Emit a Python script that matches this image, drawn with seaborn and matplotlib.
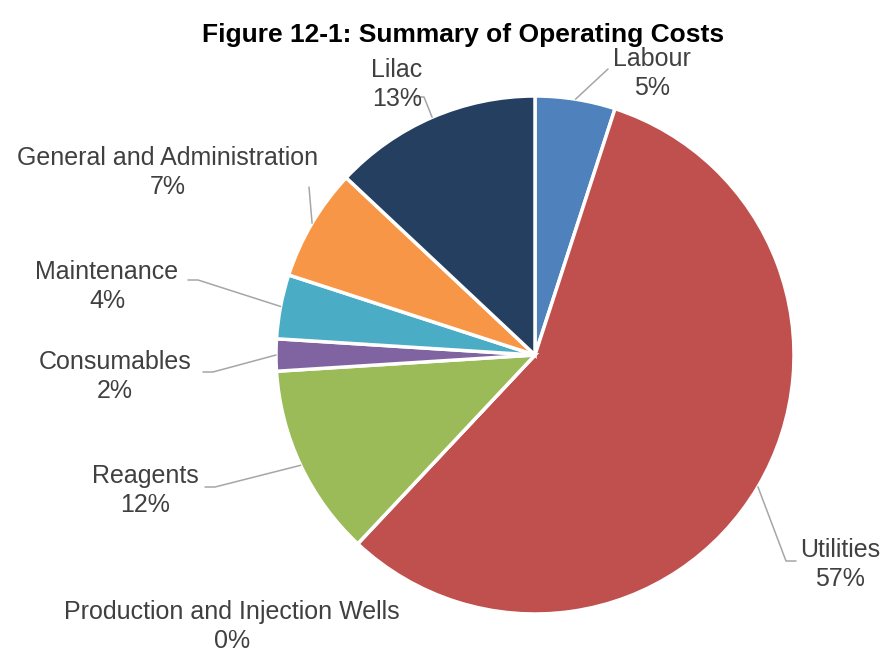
import numpy as np
import matplotlib
matplotlib.use("Agg")
import matplotlib.pyplot as plt
import seaborn as sns

# Operating cost breakdown (percent of total), clockwise from 12 o'clock
categories = ["Labour", "Utilities", "Production and Injection Wells", "Reagents",
              "Consumables", "Maintenance", "General and Administration", "Lilac"]
shares = [5, 57, 0, 12, 2, 4, 7, 13]
colors = ["#4F81BD", "#C0504D", "#7F7F7F", "#9BBB59",
          "#8064A2", "#4BACC6", "#F79646", "#243F60"]

sns.set_theme(style="white")
plt.rcParams["font.family"] = ["Liberation Sans", "DejaVu Sans"]

W, H = 884, 653
fig = plt.figure(figsize=(W / 100, H / 100), dpi=100)
ax = fig.add_axes([0, 0, 1, 1])

cx, cy, r = 535, H - 355, 259
wedges, _ = ax.pie(shares, colors=colors, startangle=90, counterclock=False,
                   center=(cx, cy), radius=r, frame=True,
                   wedgeprops=dict(edgecolor="white", linewidth=2.5))
ax.set_xlim(0, W)
ax.set_ylim(0, H)
ax.set_aspect("equal")
ax.axis("off")

# label placement: (text centre x, top-line y in px from top, leader start x, leader start y)
layout = {
    "Labour": (652, 59, 608, 69),
    "Utilities": (840, 550, 796, 561),
    "Production and Injection Wells": (232, 612, None, None),
    "Reagents": (145, 476, 205, 487),
    "Consumables": (115, 362, 203, 372),
    "Maintenance": (107, 272, 188, 280),
    "General and Administration": (168, 158, 309, 187),
    "Lilac": (397, 70, 414, 97),
}

txt_color = "#404040"
line_color = "#A6A6A6"
fs = 18
for w, name, val in zip(wedges, categories, shares):
    tx, ty, lx, ly = layout[name]
    ax.text(tx, H - ty, name, ha="center", va="center", fontsize=fs, color=txt_color)
    ax.text(tx, H - ty - 29, f"{val}%", ha="center", va="center", fontsize=fs, color=txt_color)
    if lx is None:
        continue
    mid = np.deg2rad((w.theta1 + w.theta2) / 2)
    px, py = cx + r * np.cos(mid), cy + r * np.sin(mid)
    # short horizontal tick next to the text, then a segment to the wedge edge
    hx = lx + (10 if px > lx else -10)
    if name in ("Labour", "General and Administration"):
        ax.plot([lx, px], [H - ly, py], color=line_color, lw=1.1)
    else:
        ax.plot([lx, hx, px], [H - ly, H - ly, py], color=line_color, lw=1.1)

fig.text(463 / W, 1 - 35 / H, "Figure 12-1: Summary of Operating Costs",
         ha="center", va="center", fontsize=19, fontweight="bold", color="black")

fig.savefig("out.png", dpi=100, facecolor="white")
